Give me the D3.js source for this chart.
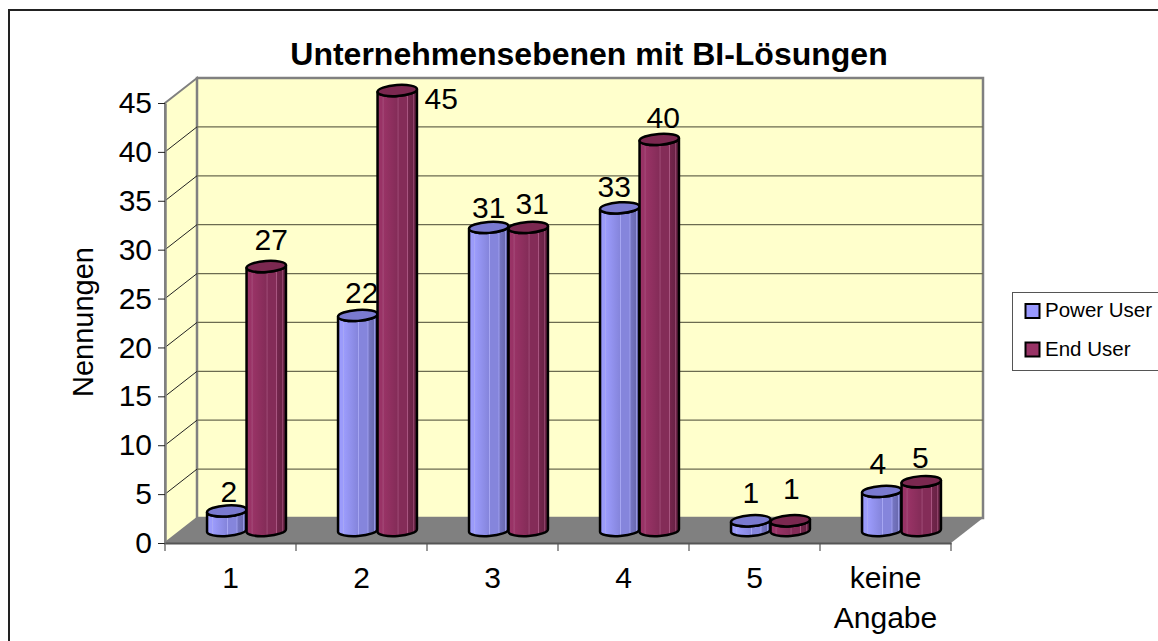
<!DOCTYPE html>
<html>
<head>
<meta charset="utf-8">
<script src="https://cdn.jsdelivr.net/npm/d3@7/dist/d3.min.js"></script>
<style>
html,body{margin:0;padding:0;background:#fff;overflow:hidden}
svg{display:block}
text{font-family:"Liberation Sans",Arial,sans-serif;fill:#000}
</style>
</head>
<body>
<svg id="c" width="1158" height="641"></svg>
<script>
const categories = ["1","2","3","4","5","keine Angabe"];
const seriesNames = ["Power User","End User"];
const powerUser = [2,22,31,33,1,4];
const endUser = [27,45,31,40,1,5];
const yTicks = [0,5,10,15,20,25,30,35,40,45];
const chartTitle = "Unternehmensebenen mit BI-Lösungen";
const yTitle = "Nennungen";

const svg = d3.select("#c");
const W = 1158, H = 641;
const depthX = 32, depthY = 25;
const fx0 = 165, fx1 = 951, fy0 = 543, fy1 = 103;
const fontSize = 30;

const x = d3.scaleBand().domain(categories).range([fx0,fx1]);
const y = d3.scaleLinear().domain([0,45]).range([fy0,fy1]);
const inner = d3.scaleBand().domain(seriesNames).range([0,79]);
const barLead = (x.bandwidth()-79)/2 + depthX/2;
const colour = d3.scaleOrdinal().domain(seriesNames).range(["#9999ff","#993366"]);

const defs = svg.append("defs");
function grad(id, l, m, r, hi){
  const g = defs.append("linearGradient").attr("id",id);
  [[0,l],[.12,l],[.14,hi],[.16,l],[.5,m],[.52,hi],[.54,m],[.74,m],[.76,hi],[.78,d3.interpolateRgb(m,r)(.5)],[.9,d3.interpolateRgb(m,r)(.8)],[.92,hi],[.94,r],[1,r]]
    .forEach(s=>g.append("stop").attr("offset",s[0]).attr("stop-color",s[1]));
}
grad("g0","#9b9bfb","#8585dc","#6464a8","#a8a8f4");
grad("g1","#993366","#842c58","#622040","#a85580");

// frame
svg.append("rect").attr("x",9).attr("y",10).attr("width",W+20).attr("height",H+20)
  .attr("fill","#fff").attr("stroke","#222").attr("stroke-width",2);

// walls
const wallFill="#ffffcc", edge="#808080";
svg.append("path").attr("d",`M${fx0},${y(45)}L${fx0+depthX},${y(45)-depthY}L${fx0+depthX},${y(0)-depthY}L${fx0},${y(0)}Z`)
  .attr("fill",wallFill).attr("stroke",edge).attr("stroke-width",2);
svg.append("rect").attr("x",fx0+depthX).attr("y",y(45)-depthY).attr("width",fx1-fx0)
  .attr("height",y(0)-y(45)).attr("fill",wallFill).attr("stroke",edge).attr("stroke-width",2.5);
svg.append("path").attr("d",`M${fx0},${y(0)}L${fx0+depthX},${y(0)-depthY}L${fx1+depthX},${y(0)-depthY}L${fx1},${y(0)}Z`)
  .attr("fill","#808080");

// grid
yTicks.slice(1,-1).forEach(t=>{
  svg.append("line").attr("x1",fx0+depthX).attr("x2",fx1+depthX).attr("y1",y(t)-depthY).attr("y2",y(t)-depthY)
    .attr("stroke","#6b6b50").attr("stroke-width",1.2);
});
yTicks.slice(1,-1).forEach(t=>{
  svg.append("line").attr("x1",fx0).attr("x2",fx0+depthX).attr("y1",y(t)).attr("y2",y(t)-depthY)
    .attr("stroke","#222").attr("stroke-width",1);
});

// axes
const ya = svg.append("g").attr("transform",`translate(${fx0},0)`)
  .call(d3.axisLeft(y).tickValues(yTicks).tickSize(7).tickPadding(6).tickSizeOuter(0));
ya.select(".domain").attr("stroke",edge).attr("stroke-width",2.5);
ya.selectAll(".tick line").attr("stroke","#222");
ya.selectAll("text").attr("font-size",fontSize).style("font-family",'"Liberation Sans",Arial,sans-serif');

const xa = svg.append("g").attr("transform",`translate(0,${fy0})`)
  .call(d3.axisBottom(x).tickValues([]).tickSizeOuter(0));
xa.select(".domain").attr("stroke","#555").attr("stroke-width",2);
d3.range(categories.length+1).forEach(i=>{
  const px = i<categories.length ? x(categories[i]) : fx1;
  svg.append("line").attr("x1",px).attr("x2",px).attr("y1",fy0).attr("y2",fy0+8).attr("stroke","#555").attr("stroke-width",1.2);
});
categories.forEach(c=>{
  const t = svg.append("text").attr("text-anchor","middle").attr("font-size",fontSize)
    .attr("x",x(c)+x.bandwidth()/2).attr("y",fy0+44.5);
  c.split(" ").forEach((w,i)=>t.append("tspan").attr("x",x(c)+x.bandwidth()/2).attr("dy",i?40:0).text(w));
});

// cylinders
const values = [powerUser,endUser];
const rx = inner.bandwidth()/2, ry = 5.5, tilt = -4;
const labelNudge = {"0-0":[2,-9],"0-1":[4,-12.5],"0-2":[0,-9.5],"0-3":[-5.5,-11],"0-4":[0,-18],"0-5":[-4,-17.5],
                    "1-0":[5,-16.5],"1-1":[44,18],"1-2":[4,-13.5],"1-3":[4,-11.5],"1-4":[1,-22],"1-5":[-1,-13.5]};
categories.forEach((c,ci)=>{
  seriesNames.forEach((s,si)=>{
    const v = values[si][ci];
    const cx = x(c)+barLead+inner(s)+rx;
    const base = y(0)-depthY/2, top = y(v)-depthY/2;
    const p = svg.append("g");
    const dx = rx*Math.cos(tilt*Math.PI/180), dy = rx*Math.sin(tilt*Math.PI/180);
    p.append("path")
      .attr("d",`M${cx-dx},${top-dy}L${cx-dx},${base-dy}A${rx},${ry} ${tilt} 0 0 ${cx+dx},${base+dy}L${cx+dx},${top+dy}A${rx},${ry} ${tilt} 0 1 ${cx-dx},${top-dy}Z`)
      .attr("fill",`url(#g${si})`).attr("stroke","#000").attr("stroke-width",2.5).attr("stroke-linejoin","round");
    p.append("ellipse").attr("rx",rx).attr("ry",ry)
      .attr("transform",`translate(${cx},${top}) rotate(${tilt})`)
      .attr("fill",si?"#7b2850":"#7a7ad0").attr("stroke","#000").attr("stroke-width",2.5);
  });
});
categories.forEach((c,ci)=>{
  seriesNames.forEach((s,si)=>{
    const v = values[si][ci];
    const cx = x(c)+barLead+inner(s)+rx;
    const n = labelNudge[si+"-"+ci];
    svg.append("text").attr("text-anchor","middle").attr("font-size",fontSize)
      .attr("x",cx+n[0]).attr("y",y(v)-depthY/2+n[1]).text(v);
  });
});

// title
svg.append("text").attr("x",589).attr("y",65).attr("text-anchor","middle")
  .attr("font-size",32).attr("font-weight","bold").text(chartTitle);
svg.append("text").attr("transform","translate(93,322) rotate(-90)").attr("text-anchor","middle")
  .attr("font-size",fontSize-1).text(yTitle);

// legend
svg.append("rect").attr("x",1012.5).attr("y",292.5).attr("width",170).attr("height",78)
  .attr("fill","#fff").attr("stroke","#555").attr("stroke-width",1);
seriesNames.forEach((s,i)=>{
  const ly = 311+i*38.5;
  svg.append("rect").attr("x",1025.5).attr("y",ly-7).attr("width",14).attr("height",14)
    .attr("fill",colour(s)).attr("stroke","#000").attr("stroke-width",2);
  svg.append("text").attr("x",1045).attr("y",ly+6).attr("font-size",20.5).text(s);
});
</script>
</body>
</html>
